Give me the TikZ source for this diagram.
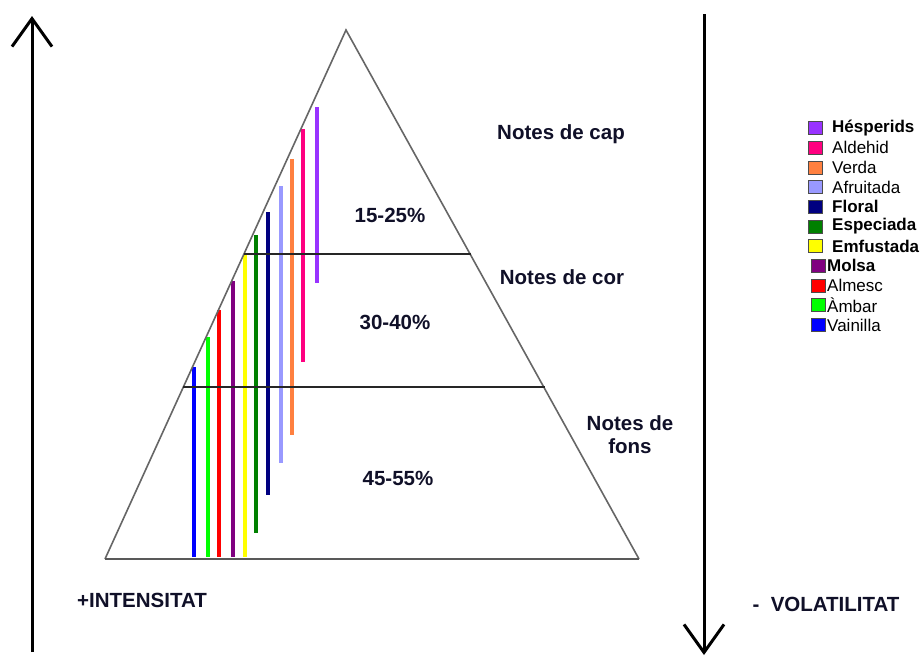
\documentclass[tikz,border=0pt]{standalone}
\usepackage{fontspec}
\setmainfont{Liberation Sans}
\usetikzlibrary{arrows.meta}
\definecolor{cHes}{HTML}{9933FF}
\definecolor{cAld}{HTML}{FF0080}
\definecolor{cVer}{HTML}{FF8040}
\definecolor{cAfr}{HTML}{9999FF}
\definecolor{cFlo}{HTML}{000080}
\definecolor{cEsp}{HTML}{008000}
\definecolor{cEmf}{HTML}{FFFF00}
\definecolor{cMol}{HTML}{800080}
\definecolor{cAlm}{HTML}{FF0000}
\definecolor{cAmb}{HTML}{00FF00}
\definecolor{cVai}{HTML}{0000FF}
\definecolor{txt}{HTML}{101028}
\tikzset{
  edge/.style={draw=gray!80!black, line width=1.6pt},
  level/.style={draw=black!85, line width=1.2pt},
  basel/.style={draw=gray!70!black, line width=2.2pt},
  bar/.style={line width=4pt},
  bigarrow/.style={line width=3pt, -{Straight Barb[length=28pt,width=40pt,line width=3pt]}},
  lab/.style={font=\fontsize{20.5}{23}\selectfont\bfseries, text=txt, inner sep=0pt, align=center},
  legbox/.style={draw=black!70, line width=0.8pt, minimum width=14pt, minimum height=13pt, inner sep=0pt},
  legtxt/.style={font=\fontsize{17}{18}\selectfont, anchor=west, inner sep=0pt},
}
\begin{document}
\begin{tikzpicture}[x=1pt,y=-1pt]
\useasboundingbox[fill=white] (0,0) rectangle (921,657);

% triangle
\coordinate (apex) at (346,30);
\coordinate (bl) at (105,559);
\coordinate (br) at (639,559);
\coordinate (l1a) at (244,254);
\coordinate (l1b) at (471,254);
\coordinate (l2a) at (183,387);
\coordinate (l2b) at (545,387);

% bars
\foreach \nm/\x/\ya/\yb/\c in {
  ves/317/107/283/cHes,
  ald/303/129/362/cAld,
  ver/292/159/435/cVer,
  afr/281/186/463/cAfr,
  flo/268/212/495/cFlo,
  esp/256/235/533/cEsp,
  emf/245/254/557/cEmf,
  mol/233/281/557/cMol,
  alm/219/310/557/cAlm,
  amb/208/337/557/cAmb,
  vai/194/367/557/cVai}{
  \coordinate (\nm t) at (\x,\ya);
  \coordinate (\nm b) at (\x,\yb);
  \draw[bar, draw=\c] (\nm t) -- (\nm b);
}

\draw[edge] (bl) -- (apex) -- (br);
\draw[basel] (bl) -- (br);
\draw[level] (l1a) -- (l1b);
\draw[level] (l2a) -- (l2b);

% labels
\node[lab] (cap) at (561,134) {Notes de cap};
\node[lab] (p1) at (390,215) {15-25\%};
\node[lab] (cor) at (562,277) {Notes de cor};
\node[lab] (p2) at (395,322) {30-40\%};
\node[lab] (fons) at (630,435) {Notes de\\fons};
\node[lab] (p3) at (398,478) {45-55\%};
\node[lab] (int) at (142,600) {+INTENSITAT};
\node[lab] (vol) at (826,604) {-\ \ VOLATILITAT};

% arrows
\coordinate (aup0) at (32,652);
\coordinate (aup1) at (32,16);
\draw[bigarrow] (aup0) -- (aup1);
\coordinate (adn0) at (704,14);
\coordinate (adn1) at (704,655);
\draw[bigarrow] (adn0) -- (adn1);

% legend
\foreach \i/\c/\t/\f in {
  0/cHes/Hésperids/\bfseries,
  1/cAld/Aldehid/,
  2/cVer/Verda/,
  3/cAfr/Afruitada/,
  4/cFlo/Floral/\bfseries,
  5/cEsp/Especiada/\bfseries,
  6/cEmf/Emfustada/\bfseries}{
  \node[legbox, fill=\c] (lb\i) at (815,128+19.7*\i) {};
  \node[legtxt] (lt\i) at (832,128+19.7*\i) {\f \t};
}
\foreach \i/\c/\t/\f in {
  7/cMol/Molsa/\bfseries,
  8/cAlm/Almesc/,
  9/cAmb/Àmbar/,
  10/cVai/Vainilla/}{
  \node[legbox, fill=\c] (lb\i) at (818,128+19.7*\i) {};
  \node[legtxt] (lt\i) at (827,128+19.7*\i) {\f \t};
}
\end{tikzpicture}
\end{document}
